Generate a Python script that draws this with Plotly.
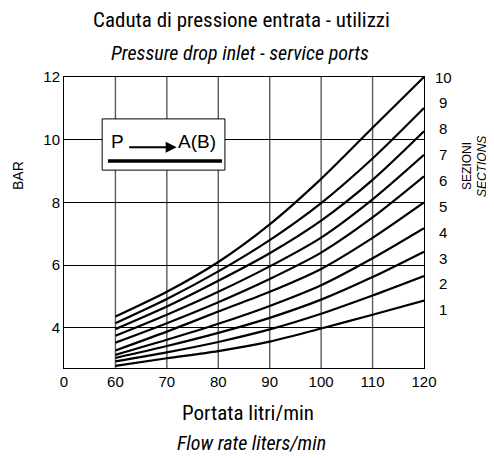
import plotly.graph_objects as go

# ---- data ----
flow = [60, 70, 80, 90, 100, 110, 120]
sections = ["1", "2", "3", "4", "5", "6", "7", "8", "9", "10"]
s1 = [2.79, 3.03, 3.26, 3.56, 3.98, 4.42, 4.87]
s2 = [2.93, 3.22, 3.55, 3.95, 4.45, 5.03, 5.65]
s3 = [3.04, 3.42, 3.84, 4.32, 4.90, 5.62, 6.43]
s4 = [3.14, 3.62, 4.13, 4.70, 5.36, 6.22, 7.18]
s5 = [3.28, 3.88, 4.52, 5.15, 5.88, 6.87, 8.00]
s6 = [3.53, 4.15, 4.82, 5.56, 6.40, 7.52, 8.83]
s7 = [3.75, 4.42, 5.15, 5.96, 6.88, 8.10, 9.52]
s8 = [3.96, 4.68, 5.50, 6.38, 7.42, 8.72, 10.27]
s9 = [4.15, 4.92, 5.80, 6.80, 7.98, 9.40, 11.01]
s10 = [4.36, 5.15, 6.10, 7.30, 8.75, 10.38, 12.00]
series = [s1, s2, s3, s4, s5, s6, s7, s8, s9, s10]

x_tickvals = [50, 60, 70, 80, 90, 100, 110, 120]
x_ticktext = ["0", "60", "70", "80", "90", "100", "110", "120"]
y_tickvals = [4, 6, 8, 10, 12]

COND = "Roboto Condensed, Liberation Sans Narrow, Roboto, sans-serif"
ARIAL = "Liberation Sans, Arial, sans-serif"

fig = go.Figure()

# vertical grid lines (gray)
for xv in x_tickvals[1:-1]:
    fig.add_shape(type="line", xref="x", yref="paper", x0=xv, x1=xv, y0=0, y1=1,
                  line=dict(color="#5a5a5a", width=1.4), layer="below")

for name, vals in zip(sections, series):
    fig.add_trace(go.Scatter(x=flow, y=vals, mode="lines", name=name,
                             line=dict(color="black", width=2.2, shape="spline", smoothing=0.8),
                             showlegend=False, hoverinfo="skip"))

fig.update_xaxes(range=[50, 120], tickvals=x_tickvals, ticktext=x_ticktext,
                 showgrid=False, zeroline=False, showline=True, linecolor="black",
                 linewidth=1, mirror=True, ticks="",
                 tickfont=dict(family=ARIAL, size=15, color="black"))
fig.update_yaxes(range=[2.72, 12], tickvals=y_tickvals,
                 showgrid=True, gridcolor="black", gridwidth=1, zeroline=False,
                 showline=True, linecolor="black", linewidth=1, mirror=True, ticks="",
                 tickfont=dict(family=ARIAL, size=15, color="black"))

ann = []
# titles
ann.append(dict(text="Caduta di pressione entrata - utilizzi", x=0.492, y=1.196,
                font=dict(family=COND, size=21, color="black")))
ann.append(dict(text="<i>Pressure drop inlet - service ports</i>", x=0.489, y=1.082,
                font=dict(family=COND, size=20, color="black")))
ann.append(dict(text="Portata litri/min", x=0.511, y=-0.155,
                font=dict(family=COND, size=21, color="black")))
ann.append(dict(text="<i>Flow rate liters/min</i>", x=0.521, y=-0.258,
                font=dict(family=COND, size=20, color="black")))
ann.append(dict(text="BAR", x=-0.128, y=0.663, textangle=-90,
                font=dict(family=ARIAL, size=14, color="black")))
ann.append(dict(text="SEZIONI", x=1.119, y=0.694, textangle=-90,
                font=dict(family=ARIAL, size=12, color="black")))
ann.append(dict(text="<i>SECTIONS</i>", x=1.161, y=0.694, textangle=-90,
                font=dict(family=ARIAL, size=12, color="black")))
# section labels, evenly spaced
for i, lab in enumerate(sections):
    ann.append(dict(text=lab, x=1.053, y=0.2 + i * (0.8 / 9),
                    font=dict(family=ARIAL, size=15, color="black")))
# legend box text
ann.append(dict(text="P", x=0.149, y=0.777, font=dict(family=ARIAL, size=19, color="black")))
ann.append(dict(text="A(B)", x=0.369, y=0.777, font=dict(family=ARIAL, size=19, color="black")))
for a in ann:
    a.update(xref="paper", yref="paper", showarrow=False, xanchor="center", yanchor="middle")
# arrow
ann.append(dict(xref="paper", yref="paper", x=0.313, y=0.759, ax=-49, ay=0, text="",
                showarrow=True, arrowhead=2, arrowsize=1.1, arrowwidth=2, arrowcolor="black"))

fig.update_layout(annotations=ann)

fig.add_shape(type="rect", xref="paper", yref="paper", x0=0.106, x1=0.447, y0=0.680, y1=0.856,
              line=dict(color="black", width=1), fillcolor="white", layer="above")
fig.add_shape(type="line", xref="paper", yref="paper", x0=0.122, x1=0.439, y0=0.711, y1=0.711,
              line=dict(color="black", width=3.5))

# page body has an 8px default margin: shift the figure up/left to compensate
fig.update_layout(width=486, height=450, margin=dict(l=56, r=70, t=69, b=90),
                  plot_bgcolor="white", paper_bgcolor="white")

fig.write_html("out.html")
